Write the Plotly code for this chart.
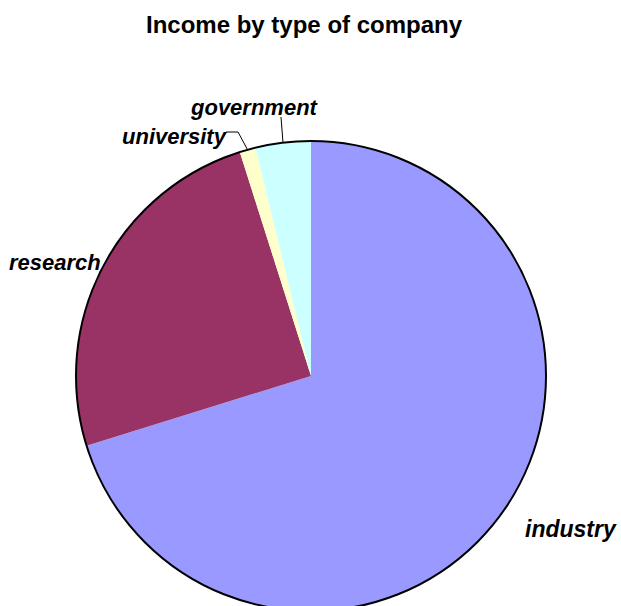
import math
import plotly.graph_objects as go

# Income share by type of company (percent)
categories = ["industry", "research", "university", "government"]
values = [70.2, 24.9, 1.1, 3.8]
colors = ["#9999FF", "#993366", "#FFFFCC", "#CCFFFF"]

title_text = "Income by type of company"

# Canvas and pie geometry (pixels)
W, H = 621, 614
CX, CY, R = 311, 376, 235
FONT = "Liberation Sans, Arial, sans-serif"


def px_x(x):
    return x / W


def px_y(y):
    return (H - y) / H


def slice_point(idx, scale=1.0):
    """Point on the rim at the middle angle of a slice (clockwise from 12 o'clock)."""
    total = sum(values)
    start = sum(values[:idx]) / total * 360
    mid = start + values[idx] / total * 360 / 2
    a = math.radians(mid)
    return CX + R * scale * math.sin(a), CY - R * scale * math.cos(a)


fig = go.Figure()
fig.add_trace(
    go.Pie(
        labels=categories,
        values=values,
        sort=False,
        direction="clockwise",
        rotation=0,
        textinfo="none",
        hoverinfo="label+percent",
        marker=dict(colors=colors, line=dict(width=0)),
        domain=dict(x=[px_x(CX - R), px_x(CX + R)], y=[px_y(CY + R), px_y(CY - R)]),
        showlegend=False,
    )
)

# Outer rim of the pie
fig.add_shape(
    type="circle", xref="paper", yref="paper",
    x0=px_x(CX - R), x1=px_x(CX + R), y0=px_y(CY + R), y1=px_y(CY - R),
    line=dict(color="black", width=2),
)

# Category labels: (x, y, font size)
label_pos = {
    "industry": (571, 529, 23),
    "research": (55, 262, 22),
    "university": (175, 136, 22),
    "government": (254, 108, 22),
}
for name in categories:
    lx, ly, fs = label_pos[name]
    fig.add_annotation(
        x=px_x(lx), y=px_y(ly), xref="paper", yref="paper",
        text=f"<b><i>{name}</i></b>", showarrow=False,
        xanchor="center", yanchor="middle",
        font=dict(family=FONT, size=fs, color="black"),
    )

# Leader lines for the two narrow slices
gx, gy = slice_point(categories.index("government"))
fig.add_shape(type="line", xref="paper", yref="paper",
              x0=px_x(281), y0=px_y(117), x1=px_x(gx), y1=px_y(gy),
              line=dict(color="black", width=1))
ux, uy = slice_point(categories.index("university"))
fig.add_shape(type="path", xref="paper", yref="paper",
              path=f"M {px_x(226)} {px_y(132)} L {px_x(238)} {px_y(132)} L {px_x(ux)} {px_y(uy)}",
              line=dict(color="black", width=1))

# Chart title
fig.add_annotation(
    x=px_x(304), y=px_y(24), xref="paper", yref="paper",
    text=f"<b>{title_text}</b>", showarrow=False,
    xanchor="center", yanchor="middle",
    font=dict(family=FONT, size=24, color="black"),
)

fig.update_layout(
    width=W, height=H,
    margin=dict(l=0, r=0, t=0, b=0),
    paper_bgcolor="white", plot_bgcolor="white",
)

fig.write_html(
    "out.html",
    post_script="document.documentElement.style.overflow='hidden';"
                "document.body.style.overflow='hidden';document.body.style.margin='0';",
)
